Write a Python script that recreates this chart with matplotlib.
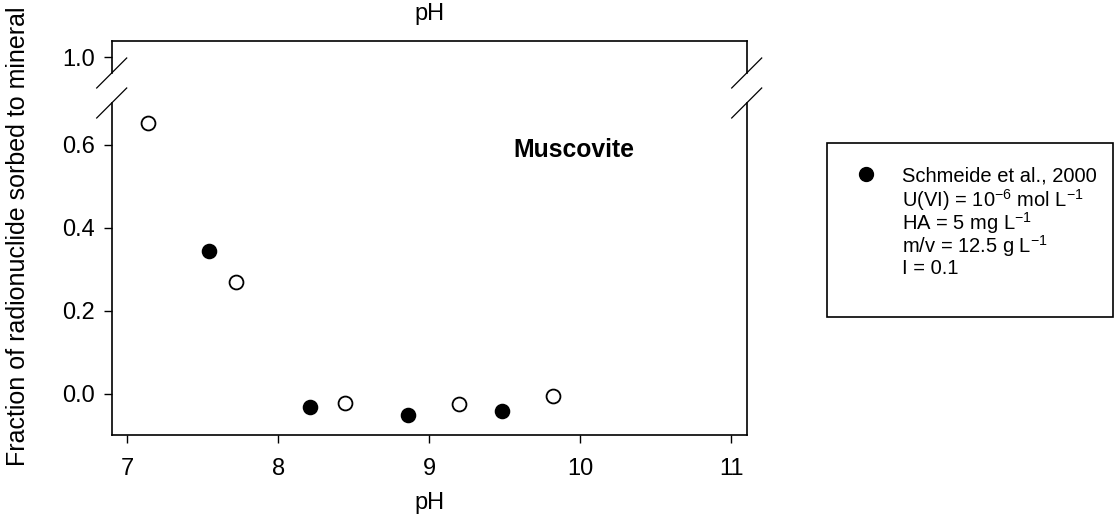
import matplotlib
matplotlib.use("Agg")
import matplotlib.pyplot as plt
from matplotlib.lines import Line2D
from matplotlib.patches import Rectangle

plt.rcParams['font.family'] = ['Liberation Sans', 'DejaVu Sans']
plt.rcParams['mathtext.fontset'] = 'custom'
plt.rcParams['mathtext.rm'] = 'Liberation Sans'
plt.rcParams['mathtext.it'] = 'Liberation Sans:italic'
plt.rcParams['mathtext.bf'] = 'Liberation Sans:bold'

# U(VI) sorption onto muscovite in the presence of humic acid
schmeide_ph = [7.54, 8.21, 8.86, 9.48]
schmeide_frac = [0.345, -0.031, -0.051, -0.042]
model_ph = [7.14, 7.72, 8.44, 9.20, 9.82]
model_frac = [0.652, 0.271, -0.022, -0.024, -0.004]

x_ticks = [7, 8, 9, 10, 11]
y_ticks_low = [0.0, 0.2, 0.4, 0.6]
y_ticks_high = [1.0]

legend_lines = [
    "Schmeide et al., 2000",
    r"U(VI) = 10$^{-6}$ mol L$^{-1}$",
    r"HA = 5 mg L$^{-1}$",
    r"m/v = 12.5 g L$^{-1}$",
    "I = 0.1",
]

W, H = 1115, 523
fig = plt.figure(figsize=(W / 100, H / 100), dpi=100)


def fx(px):
    return px / W


def fy(py):
    return 1 - py / H


left, right = fx(112), fx(747)
ax_hi = fig.add_axes([left, fy(73), right - left, fy(41) - fy(73)])
ax_lo = fig.add_axes([left, fy(435), right - left, fy(103) - fy(435)], sharex=ax_hi)

FS = 17
ms = 10
ax_lo.plot(schmeide_ph, schmeide_frac, 'o', color='black', ms=ms, mew=1.2, ls='none')
ax_lo.plot(model_ph, model_frac, 'o', mfc='white', mec='black', ms=ms, mew=1.3, ls='none')

ax_lo.set_xlim(6.899, 11.106)
ax_lo.set_ylim(-0.0988, 0.7012)
ax_hi.set_ylim(0.9622, 1.0393)

for ax in (ax_lo, ax_hi):
    for s in ax.spines.values():
        s.set_linewidth(1.2)
    ax.tick_params(direction='out', length=5.5, width=1.0, labelsize=FS, pad=7)

ax_lo.spines['top'].set_visible(False)
ax_hi.spines['bottom'].set_visible(False)

ax_lo.set_xticks(x_ticks)
ax_lo.set_xticklabels([str(t) for t in x_ticks])
ax_lo.tick_params(axis='x', pad=11)
ax_lo.set_yticks(y_ticks_low)
ax_lo.set_yticklabels([f"{t:.1f}" for t in y_ticks_low])
ax_hi.set_yticks(y_ticks_high)
ax_hi.set_yticklabels([f"{t:.1f}" for t in y_ticks_high])
ax_hi.tick_params(axis='x', bottom=False, top=False, labelbottom=False, labeltop=False)

ax_lo.set_xlabel("pH", fontsize=FS, labelpad=9)
ax_hi.xaxis.set_label_position('top')
ax_hi.set_xlabel("pH", fontsize=FS, labelpad=15)

fig.text(fx(18), fy(236), "Fraction of radionuclide sorbed to mineral",
         rotation=90, ha='center', va='center', fontsize=18)

ax_lo.text(9.96, 0.571, "Muscovite", ha='center', va='baseline',
           fontsize=17.8, fontweight='bold')

# axis break marks
for cx in (111.7, 746.7):
    for cy in (73, 103):
        fig.add_artist(Line2D([fx(cx - 15), fx(cx + 15)], [fy(cy + 15), fy(cy - 15)],
                              transform=fig.transFigure, color='black', lw=0.9))

# legend box
fig.add_artist(Rectangle((fx(827), fy(317)), fx(1113) - fx(827), fy(143) - fy(317),
                         transform=fig.transFigure, fill=False, ec='black', lw=1.2))
fig.add_artist(Line2D([fx(866)], [fy(174)], transform=fig.transFigure,
                      marker='o', color='black', ms=ms, ls='none'))
LFS = 14.5
for i, line in enumerate(legend_lines):
    fig.text(fx(902), fy(174 + 23 * i), line, ha='left', va='center_baseline', fontsize=LFS)

fig.savefig("out.png", dpi=100)
